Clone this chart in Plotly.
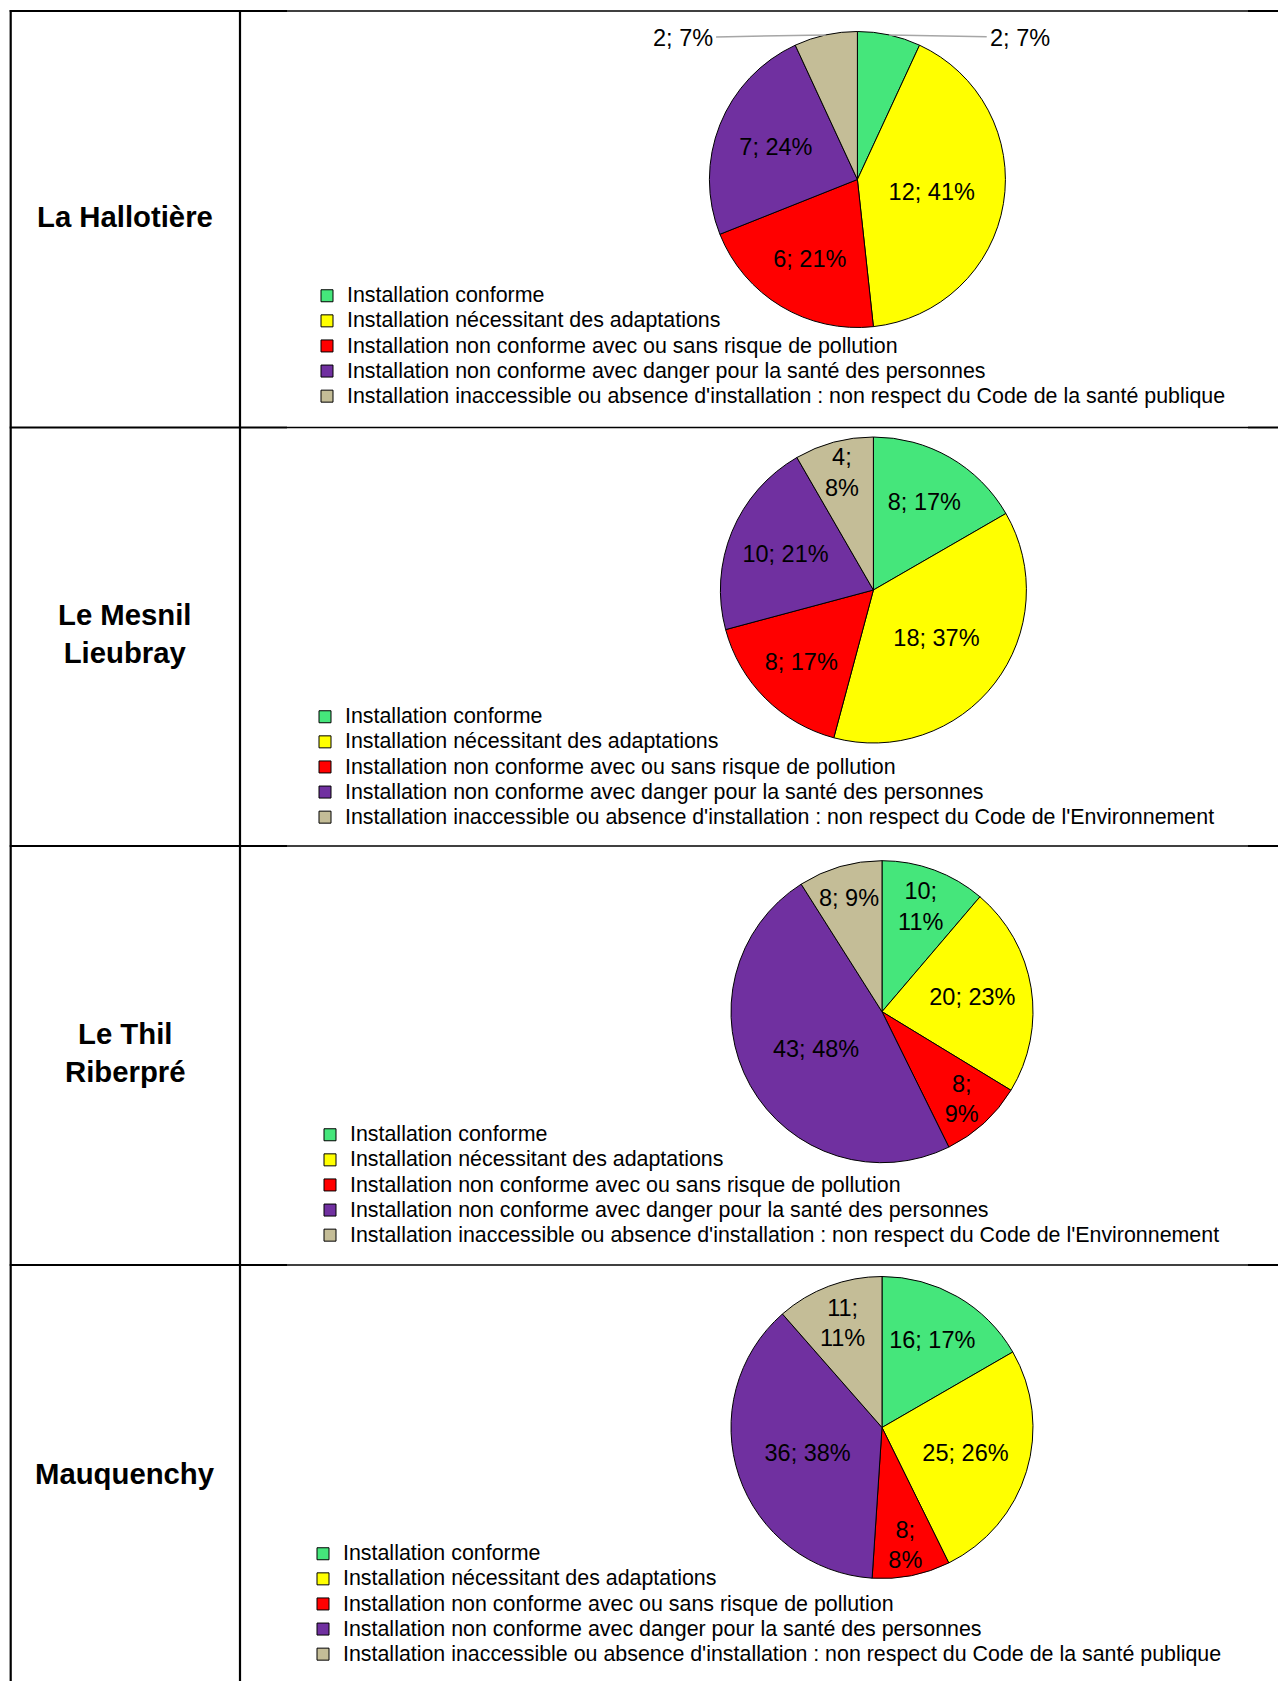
import math
import plotly.graph_objects as go

# page geometry: the html body adds an 8px margin, so the figure is offset by 8px
PAGE_W, PAGE_H = 1286, 1681
OFF = 8
W, H = PAGE_W - OFF, PAGE_H - OFF

# ---------------- data ----------------
communes = ["La Hallotière", "Le Mesnil<br>Lieubray", "Le Thil<br>Riberpré", "Mauquenchy"]

categories = [
    "Installation conforme",
    "Installation nécessitant des adaptations",
    "Installation non conforme avec ou sans risque de pollution",
    "Installation non conforme avec danger pour la santé des personnes",
]
last_cat_sante = "Installation inaccessible ou absence d'installation : non respect du Code de la santé publique"
last_cat_env = "Installation inaccessible ou absence d'installation : non respect du Code de l'Environnement"

values_hallotiere = [2, 12, 6, 7, 2]
pct_hallotiere = [7, 41, 21, 24, 7]
values_mesnil = [8, 18, 8, 10, 4]
pct_mesnil = [17, 37, 17, 21, 8]
values_thil = [10, 20, 8, 43, 8]
pct_thil = [11, 23, 9, 48, 9]
values_mauquenchy = [16, 25, 8, 36, 11]
pct_mauquenchy = [17, 26, 8, 38, 11]

colors = ["#45E67B", "#FFFF00", "#FF0000", "#7030A0", "#C4BD97"]

FONT = "Liberation Sans, Arial, sans-serif"

# ---------------- layout geometry (page pixels) ----------------
pies = [
    dict(vals=values_hallotiere, pct=pct_hallotiere, last=last_cat_sante, wrap=[],
         c=(857.4, 179.5, 148), leg=(307, 278.2), outside=[0, 4]),
    dict(vals=values_mesnil, pct=pct_mesnil, last=last_cat_env, wrap=[4],
         c=(873.4, 590.0, 153), leg=(305, 699.2), outside=[]),
    dict(vals=values_thil, pct=pct_thil, last=last_cat_env, wrap=[0, 2],
         c=(882.0, 1011.7, 151), leg=(310, 1117.2), outside=[]),
    dict(vals=values_mauquenchy, pct=pct_mauquenchy, last=last_cat_sante, wrap=[2, 4],
         c=(882.0, 1427.5, 151), leg=(303, 1536.2), outside=[]),
]
row_centers = [216.5, 634, 1052.5, 1473.5]
h_lines = [11, 427.5, 846, 1265]
x_left, x_sep = 10.7, 240
outside_label_dx = {-1: 143, 1: 131}
outside_label_y = 37.5


def px(x):
    return (x - OFF) / W


def py(y):
    return 1 - (y - OFF) / H


fig = go.Figure()
annotations = []
layout_legends = {}

for k, p in enumerate(pies):
    cx, cy, r = p["c"]
    style = "font-size:21.4px" + ";" * (k + 1)
    labels = [f'<span style="{style}">{c}</span>' for c in categories + [p["last"]]]
    texts, tpos = [], []
    for i, (v, pc) in enumerate(zip(p["vals"], p["pct"])):
        sep = ";<br>" if i in p["wrap"] else "; "
        if i in p["outside"]:
            texts.append("")
            tpos.append("none")
        else:
            texts.append(f"{v}{sep}{pc}%")
            tpos.append("inside")
    legname = "legend" if k == 0 else f"legend{k + 1}"
    fig.add_trace(go.Pie(
        labels=labels, values=p["vals"], text=texts, textinfo="text",
        textposition=tpos, insidetextorientation="horizontal",
        sort=False, direction="clockwise", rotation=0,
        marker=dict(colors=colors, line=dict(color="#000000", width=1)),
        textfont=dict(family=FONT, size=23.5, color="#000000"),
        domain=dict(x=[px(cx - r), px(cx + r)], y=[py(cy + r), py(cy - r)]),
        legend=legname, showlegend=True, hoverinfo="label+value+percent",
    ))
    lx, ly = p["leg"]
    layout_legends[legname] = dict(
        x=px(lx), y=py(ly), xanchor="left", yanchor="top",
        font=dict(family=FONT, size=17, color="#000000"),
        bgcolor="rgba(0,0,0,0)", itemwidth=30, traceorder="normal",
    )

    # outside labels with leader lines
    total = sum(p["vals"])
    cum = 0
    for i, v in enumerate(p["vals"]):
        mid = (cum + v / 2) / total * 2 * math.pi
        cum += v
        if i not in p["outside"]:
            continue
        ex = cx + r * math.sin(mid)
        ey = cy - r * math.cos(mid)
        side = 1 if math.sin(mid) > 0 else -1
        label_cx = ex + side * outside_label_dx[side]
        annotations.append(dict(
            x=px(ex), y=py(ey), xref="paper", yref="paper",
            text=f"{v}; {p['pct'][i]}%", showarrow=True, arrowhead=0,
            arrowwidth=1.5, arrowcolor="#A6A6A6", startstandoff=3,
            ax=label_cx - ex, ay=outside_label_y - ey, axref="pixel", ayref="pixel",
            font=dict(family=FONT, size=23.5, color="#000000"),
            borderpad=0,
        ))

# row labels
for name, yc in zip(communes, row_centers):
    annotations.append(dict(
        x=px((x_left + x_sep) / 2), y=py(yc), xref="paper", yref="paper",
        text=f"<b>{name}</b>", showarrow=False, xanchor="center", yanchor="middle",
        font=dict(family=FONT, size=29.3, color="#000000"),
    ))

# table lines
shapes = []
thick = dict(color="#000000", width=2.2)
thin = dict(color="#000000", width=1.3)
for xv in (x_left, x_sep):
    shapes.append(dict(type="line", xref="paper", yref="paper",
                       x0=px(xv), x1=px(xv), y0=py(h_lines[0] - 1), y1=py(PAGE_H), line=thick))
for yv in h_lines:
    shapes.append(dict(type="line", xref="paper", yref="paper",
                       x0=px(x_left - 1), x1=px(287), y0=py(yv), y1=py(yv), line=thick))
    shapes.append(dict(type="line", xref="paper", yref="paper",
                       x0=px(287), x1=px(1248), y0=py(yv), y1=py(yv), line=thin))
    shapes.append(dict(type="line", xref="paper", yref="paper",
                       x0=px(1248), x1=px(PAGE_W), y0=py(yv), y1=py(yv), line=thick))

fig.update_layout(
    width=W, height=H, margin=dict(l=0, r=0, t=0, b=0),
    paper_bgcolor="#FFFFFF", plot_bgcolor="#FFFFFF",
    font=dict(family=FONT, color="#000000"),
    showlegend=True,
    uniformtext=dict(minsize=23.5, mode="show"),
    annotations=annotations, shapes=shapes,
    **layout_legends,
)

fig.write_html("out.html")
